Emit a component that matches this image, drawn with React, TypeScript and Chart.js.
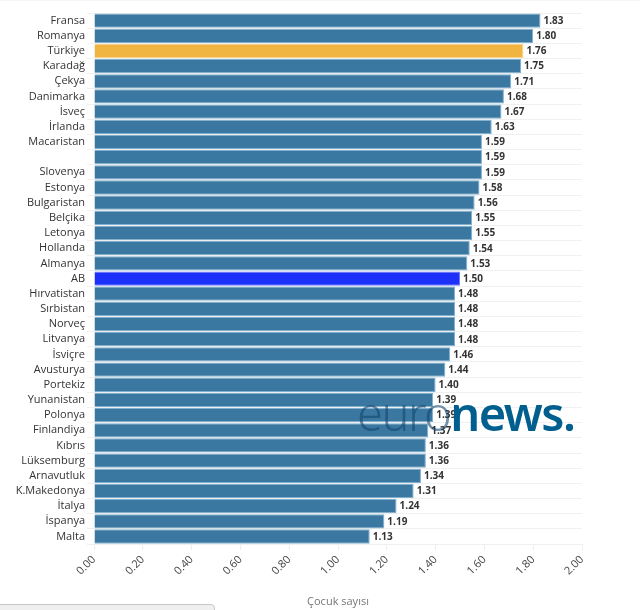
import { useEffect, useRef } from 'react';
import { Chart, registerables } from 'chart.js';

Chart.register(...registerables);

const countries = [
  'Fransa', 'Romanya', 'Türkiye', 'Karadağ', 'Çekya', 'Danimarka', 'İsveç', 'İrlanda', 'Macaristan', '',
  'Slovenya', 'Estonya', 'Bulgaristan', 'Belçika', 'Letonya', 'Hollanda', 'Almanya', 'AB', 'Hırvatistan',
  'Sırbistan', 'Norveç', 'Litvanya', 'İsviçre', 'Avusturya', 'Portekiz', 'Yunanistan', 'Polonya',
  'Finlandiya', 'Kıbrıs', 'Lüksemburg', 'Arnavutluk', 'K.Makedonya', 'İtalya', 'İspanya', 'Malta',
];
const values = [
  1.83, 1.80, 1.76, 1.75, 1.71, 1.68, 1.67, 1.63, 1.59, 1.59,
  1.59, 1.58, 1.56, 1.55, 1.55, 1.54, 1.53, 1.50, 1.48,
  1.48, 1.48, 1.48, 1.46, 1.44, 1.40, 1.39, 1.39,
  1.37, 1.36, 1.36, 1.34, 1.31, 1.24, 1.19, 1.13,
];

const FONT = '"Open Sans", sans-serif';

function barColor(name: string) {
  if (name === 'Türkiye') return '#f0b440';
  if (name === 'AB') return '#1c30fa';
  return '#3a78a1';
}

function borderColor(name: string) {
  if (name === 'Türkiye') return '#f7d48c';
  if (name === 'AB') return '#6c78fb';
  return '#7fb0d0';
}

// value printed just after the end of each bar
const valueLabels = {
  id: 'valueLabels',
  afterDatasetsDraw(chart: Chart) {
    const { ctx } = chart;
    const xScale = chart.scales.x;
    const yScale = chart.scales.y;
    ctx.save();
    ctx.font = `bold 10px ${FONT}`;
    ctx.fillStyle = '#333333';
    ctx.textAlign = 'left';
    ctx.textBaseline = 'middle';
    values.forEach((v, i) => {
      ctx.fillText(v.toFixed(2), xScale.getPixelForValue(v) + 3, yScale.getPixelForValue(i) + 0.5);
    });
    ctx.restore();
  },
};

export default function App() {
  const canvasRef = useRef<HTMLCanvasElement>(null);

  useEffect(() => {
    if (!canvasRef.current) return;
    const chart = new Chart(canvasRef.current, {
      type: 'bar',
      data: {
        labels: countries,
        datasets: [{
          data: values,
          backgroundColor: countries.map(barColor),
          borderColor: countries.map(borderColor),
          borderWidth: 1,
          barPercentage: 1,
          categoryPercentage: 0.94,
        }],
      },
      options: {
        indexAxis: 'y',
        responsive: false,
        animation: false,
        layout: { padding: { left: 0, right: 58, top: 13, bottom: 2 } },
        plugins: { legend: { display: false }, tooltip: { enabled: false } },
        scales: {
          x: {
            min: 0,
            max: 2,
            grid: { drawOnChartArea: false, color: '#eeeeee', tickLength: 6 },
            border: { display: false },
            ticks: {
              stepSize: 0.2,
              minRotation: 45,
              maxRotation: 45,
              color: '#444444',
              font: { family: FONT, size: 11 },
              callback: (v) => Number(v).toFixed(2),
            },
            title: {
              display: true,
              text: 'Çocuk sayısı',
              color: '#777777',
              font: { family: FONT, size: 11 },
              padding: { top: 14, bottom: 0 },
            },
          },
          y: {
            grid: { color: '#f0f0f0', tickLength: 7 },
            border: { display: false },
            afterFit: (scale) => { scale.width = 94; },
            ticks: {
              autoSkip: false,
              color: '#333333',
              font: { family: FONT, size: 11 },
              padding: 2,
            },
          },
        },
      },
      plugins: [valueLabels],
    });
    return () => chart.destroy();
  }, []);

  return (
    <div style={{ position: 'fixed', left: 0, top: 0, width: 640, height: 610, overflow: 'hidden', background: '#fff' }}>
      <div style={{ position: 'absolute', left: 0, top: 0, width: 640, height: 1, background: '#f4f4f4' }} />
      <canvas ref={canvasRef} width={640} height={610} style={{ position: 'absolute', left: 0, top: 0 }} />
      <div style={{
        position: 'absolute', left: 357, top: 383, fontFamily: '"Noto Sans", sans-serif', fontSize: 47,
        letterSpacing: -1.5, lineHeight: '60px', whiteSpace: 'nowrap', pointerEvents: 'none',
      }}>
        <span style={{ color: 'rgba(20,70,110,0.6)', fontWeight: 300 }}>euro</span>
        <span style={{ color: '#005f8f', fontWeight: 600 }}>news.</span>
      </div>
      <div style={{
        position: 'absolute', left: -4, top: 604, width: 219, height: 20, background: '#efefef',
        border: '1px solid #c8c8c8', borderRadius: 4, boxSizing: 'border-box',
      }} />
    </div>
  );
}
